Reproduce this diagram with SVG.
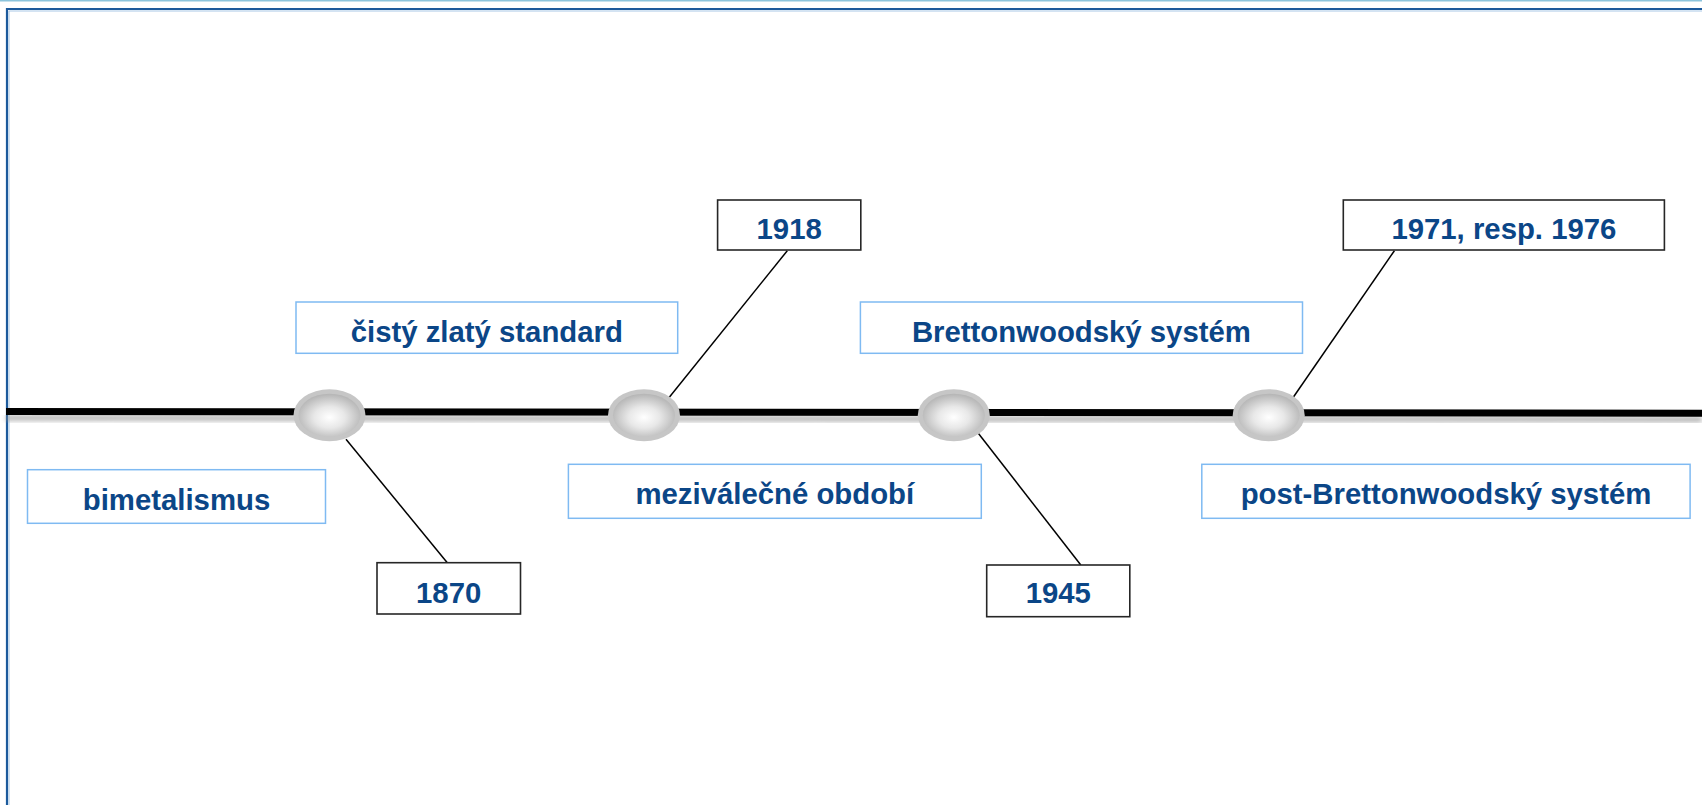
<svg xmlns="http://www.w3.org/2000/svg" width="1702" height="805" viewBox="0 0 1702 805">
<defs>
<radialGradient id="ball" cx="0.5" cy="0.55" r="0.55">
<stop offset="0" stop-color="#ffffff"/>
<stop offset="0.45" stop-color="#e8e8e8"/>
<stop offset="1" stop-color="#b4b4b4"/>
</radialGradient>
<filter id="blur" x="-5%" y="-200%" width="110%" height="500%">
<feGaussianBlur stdDeviation="2.5"/>
</filter>
</defs>
<style>
.period{fill:#ffffff;stroke:#7fbaf2;stroke-width:1.5}
.year{fill:#ffffff;stroke:#262626;stroke-width:1.6}
.lbl{font-family:"Liberation Sans",Arial,sans-serif;font-weight:bold;font-size:29.33px;fill:#0b4687;text-anchor:middle}
.conn{stroke:#000000;stroke-width:1.5;fill:none}
.ring{fill:#c6c6c6}
.core{fill:url(#ball)}
</style>
<rect x="0" y="0" width="1702" height="805" fill="#ffffff"/>
<!-- frame -->
<line x1="0" y1="0.8" x2="1702" y2="0.8" stroke="#8cc4dc" stroke-width="1.6"/>
<path d="M7,805 V9 H1702" fill="none" stroke="#1c5a9c" stroke-width="2.2"/>
<path d="M9,805 V11 H1702" fill="none" stroke="#a9c8e6" stroke-width="1"/>
<!-- timeline -->
<g id="timeline">
<line x1="6" y1="418" x2="1702" y2="419.5" stroke="#9a9a9a" stroke-width="5" filter="url(#blur)" opacity="0.8"/>
<line x1="6" y1="411.6" x2="1702" y2="413.2" stroke="#000000" stroke-width="7"/>
</g>
<!-- connectors -->
<g id="connectors">
<line class="conn" x1="346" y1="439.3" x2="447.3" y2="562.7"/>
<line class="conn" x1="787.3" y1="250.7" x2="667.9" y2="399"/>
<line class="conn" x1="977.5" y1="432.3" x2="1080.8" y2="565"/>
<line class="conn" x1="1394.4" y1="250.7" x2="1292.6" y2="398.3"/>
</g>
<!-- milestones -->
<g id="m1870"><ellipse class="ring" cx="329.5" cy="415.2" rx="36" ry="26"/><ellipse class="core" cx="329.5" cy="415.2" rx="31" ry="21.5"/></g>
<g id="m1918"><ellipse class="ring" cx="644" cy="415.2" rx="36" ry="26"/><ellipse class="core" cx="644" cy="415.2" rx="31" ry="21.5"/></g>
<g id="m1945"><ellipse class="ring" cx="953.8" cy="415.2" rx="36" ry="26"/><ellipse class="core" cx="953.8" cy="415.2" rx="31" ry="21.5"/></g>
<g id="m1971"><ellipse class="ring" cx="1268.7" cy="415.2" rx="36" ry="26"/><ellipse class="core" cx="1268.7" cy="415.2" rx="31" ry="21.5"/></g>
<!-- period boxes -->
<g id="bimetalismus"><rect class="period" x="27.5" y="469.7" width="298" height="53.6"/><text class="lbl" x="176.5" y="509.5">bimetalismus</text></g>
<g id="cisty"><rect class="period" x="296" y="302" width="381.7" height="51.3"/><text class="lbl" x="486.8" y="341.5">čistý zlatý standard</text></g>
<g id="mezivalecne"><rect class="period" x="568.4" y="464.3" width="412.9" height="54"/><text class="lbl" x="774.8" y="503.5">meziválečné období</text></g>
<g id="bretton"><rect class="period" x="860.4" y="302" width="442.1" height="51.3"/><text class="lbl" x="1081.4" y="341.5">Brettonwoodský systém</text></g>
<g id="postbretton"><rect class="period" x="1201.8" y="464.3" width="488.3" height="54"/><text class="lbl" x="1446" y="503.5">post-Brettonwoodský systém</text></g>
<!-- year boxes -->
<g id="y1870"><rect class="year" x="377" y="562.7" width="143.5" height="51.3"/><text class="lbl" x="448.7" y="602.7">1870</text></g>
<g id="y1918"><rect class="year" x="717.6" y="200" width="143.2" height="50"/><text class="lbl" x="789.2" y="238.5">1918</text></g>
<g id="y1945"><rect class="year" x="986.7" y="565" width="143.1" height="51.7"/><text class="lbl" x="1058.3" y="602.7">1945</text></g>
<g id="y1971"><rect class="year" x="1343.3" y="200" width="321.1" height="50"/><text class="lbl" x="1503.9" y="238.5">1971, resp. 1976</text></g>
</svg>
